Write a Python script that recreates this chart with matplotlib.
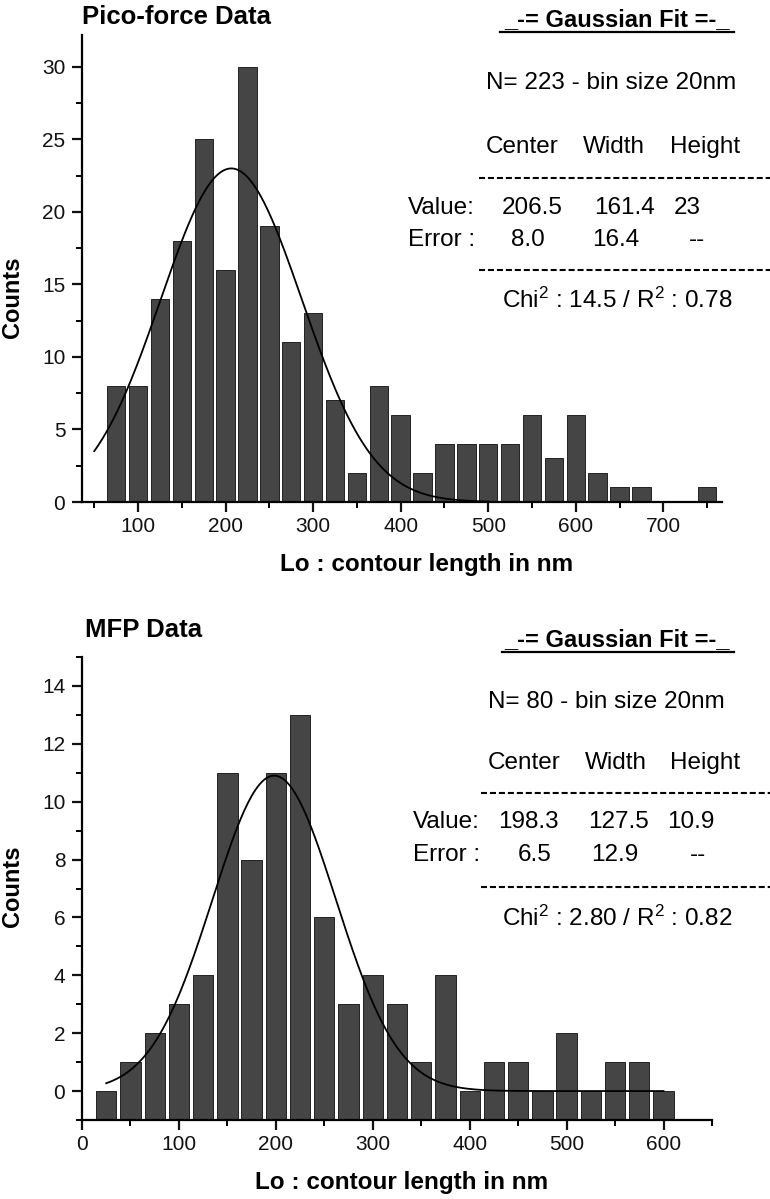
import numpy as np
import matplotlib
matplotlib.use("Agg")
import matplotlib.pyplot as plt
from matplotlib.ticker import MultipleLocator
from matplotlib.lines import Line2D

plt.rcParams['font.family'] = ['Liberation Sans', 'DejaVu Sans']
plt.rcParams['mathtext.fontset'] = 'custom'
plt.rcParams['mathtext.rm'] = 'Liberation Sans'
plt.rcParams['mathtext.it'] = 'Liberation Sans:italic'
plt.rcParams['mathtext.bf'] = 'Liberation Sans:bold'

# ---------------- data ----------------
pico_centers = [75, 100, 125, 150, 175, 200, 225, 250, 275, 300, 325, 350, 375, 400,
                425, 450, 475, 500, 525, 550, 575, 600, 625, 650, 675, 700, 725, 750]
pico_counts = [8, 8, 14, 18, 25, 16, 30, 19, 11, 13, 7, 2, 8, 6,
               2, 4, 4, 4, 4, 6, 3, 6, 2, 1, 1, 0, 0, 1]
pico_fit = {"center": 206.5, "width": 161.4, "height": 23.0, "x0": 50, "x1": 500}

mfp_centers = [25, 50, 75, 100, 125, 150, 175, 200, 225, 250, 275, 300, 325, 350,
               375, 400, 425, 450, 475, 500, 525, 550, 575, 600]
mfp_counts = [0, 1, 2, 3, 4, 11, 8, 11, 13, 6, 3, 4, 3, 1,
              4, 0, 1, 1, 0, 2, 0, 1, 1, 0]
mfp_fit = {"center": 198.3, "width": 127.5, "height": 10.9, "x0": 25, "x1": 600}

pico_text = {"title": "Pico-force Data", "n": "N= 223 - bin size 20nm",
             "value": ["206.5", "161.4", "23"], "error": ["8.0", "16.4", "--"],
             "chi": r"Chi$^{2}$ : 14.5 / R$^{2}$ : 0.78"}
mfp_text = {"title": "MFP Data", "n": "N= 80 - bin size 20nm",
            "value": ["198.3", "127.5", "10.9"], "error": ["6.5", "12.9", "--"],
            "chi": r"Chi$^{2}$ : 2.80 / R$^{2}$ : 0.82"}
col_heads = ["Center", "Width", "Height"]

W, H = 770, 1199
fig = plt.figure(figsize=(W / 100, H / 100), dpi=100)


def fx(x):
    return x / W


def fy(y):
    return 1 - y / H


def make_axes(l, t, r, b):
    return fig.add_axes([fx(l), fy(b), fx(r) - fx(l), fy(t) - fy(b)])


BAR_COLOR = '#454545'


def style(ax):
    for s in ['top', 'right']:
        ax.spines[s].set_visible(False)
    for s in ['left', 'bottom']:
        ax.spines[s].set_linewidth(1.6)
    ax.tick_params(which='major', direction='out', length=7, width=1.6,
                   labelsize=15, colors='#111111')
    ax.tick_params(which='minor', direction='out', length=4.5, width=1.4)
    ax.tick_params(axis='y', pad=5)
    ax.tick_params(axis='x', pad=4)


def gauss(fit):
    xs = np.linspace(fit["x0"], fit["x1"], 300)
    ys = fit["height"] * np.exp(-2 * (xs - fit["center"]) ** 2 / fit["width"] ** 2)
    return xs, ys


# ---------------- top panel ----------------
ax1 = make_axes(82, 35, 722, 502)
ax1.bar(pico_centers, pico_counts, width=21, color=BAR_COLOR, edgecolor='#222222',
        linewidth=0.7, zorder=2)
xs, ys = gauss(pico_fit)
ax1.plot(xs, ys, color='black', lw=1.3, zorder=3)
ax1.set_xlim(36, 767)
ax1.set_ylim(0, 32.2)
ax1.xaxis.set_major_locator(MultipleLocator(100))
ax1.xaxis.set_minor_locator(MultipleLocator(50))
ax1.yaxis.set_major_locator(MultipleLocator(5))
ax1.yaxis.set_minor_locator(MultipleLocator(2.5))
style(ax1)
ax1.set_xticks([100, 200, 300, 400, 500, 600, 700])

# ---------------- bottom panel ----------------
ax2 = make_axes(82, 657, 712, 1120)
ax2.bar(mfp_centers, np.array(mfp_counts) + 1, bottom=-1, width=21, color=BAR_COLOR,
        edgecolor='#222222', linewidth=0.7, zorder=2)
xs, ys = gauss(mfp_fit)
ax2.plot(xs, ys, color='black', lw=1.3, zorder=3)
ax2.set_xlim(0, 650)
ax2.set_ylim(-1, 15)
ax2.xaxis.set_major_locator(MultipleLocator(100))
ax2.xaxis.set_minor_locator(MultipleLocator(50))
ax2.yaxis.set_major_locator(MultipleLocator(2))
ax2.yaxis.set_minor_locator(MultipleLocator(1))
style(ax2)
ax2.set_xticks([0, 100, 200, 300, 400, 500, 600])
ax2.set_yticks([0, 2, 4, 6, 8, 10, 12, 14])

# axis labels
for (ylab_y, xlab_x, xlab_y) in [(297, 427, 565), (886, 402, 1183)]:
    fig.text(fx(13), fy(ylab_y), 'Counts', fontsize=17, fontweight='bold',
             rotation=90, ha='center', va='center')
    fig.text(fx(xlab_x), fy(xlab_y), 'Lo : contour length in nm', fontsize=17.5,
             fontweight='bold', ha='center', va='center')


# ---------------- text boxes ----------------
def table(tab, lay):
    fs = 17.5
    fig.text(fx(lay["title"][0]), fy(lay["title"][1]), tab["title"], fontsize=18.5,
             fontweight='bold', ha='left', va='center')
    fig.text(fx(617), fy(lay["y"][0]), '_-= Gaussian Fit =-_', fontsize=17,
             fontweight='bold', ha='center', va='center')
    fig.add_artist(Line2D([fx(lay["hx"]), fx(734)], [fy(lay["y"][1]), fy(lay["y"][1])],
                          color='black', lw=1.6))
    fig.text(fx(lay["nx"]), fy(lay["y"][2]), tab["n"], fontsize=fs, ha='left', va='center')
    for xc, s in zip(lay["colx"], col_heads):
        fig.text(fx(xc), fy(lay["y"][3]), s, fontsize=fs, ha='left', va='center')
    for yd in (lay["y"][4], lay["y"][7]):
        fig.add_artist(Line2D([fx(lay["dx"]), fx(770)], [fy(yd), fy(yd)], color='black',
                              lw=1.5, dashes=(2.9, 1.4)))
    yv, ye = lay["y"][5], lay["y"][6]
    fig.text(fx(lay["lx"]), fy(yv), 'Value:', fontsize=fs, ha='left', va='center')
    fig.text(fx(lay["lx"]), fy(ye), 'Error :', fontsize=fs, ha='left', va='center')
    for xc, s in zip(lay["vx"], tab["value"]):
        fig.text(fx(xc), fy(yv), s, fontsize=fs, ha='center', va='center')
    for xc, s in zip(lay["ex"], tab["error"]):
        fig.text(fx(xc), fy(ye), s, fontsize=fs, ha='center', va='center')
    fig.text(fx(617), fy(lay["y"][8]), tab["chi"], fontsize=fs, ha='center', va='center')


table(pico_text, {"title": (82, 17), "y": [20, 32, 83, 147, 178, 208, 240, 270, 300],
                  "hx": 500, "nx": 486, "colx": [486, 583, 670], "dx": 479, "lx": 408,
                  "vx": [532, 624, 687], "ex": [528, 616, 697]})
table(mfp_text, {"title": (85, 630), "y": [640, 652, 702, 763, 793, 822, 855, 887, 918],
                 "hx": 502, "nx": 488, "colx": [488, 585, 670], "dx": 481, "lx": 413,
                 "vx": [528, 618, 691], "ex": [535, 615, 698]})

fig.savefig('out.png', dpi=100)
